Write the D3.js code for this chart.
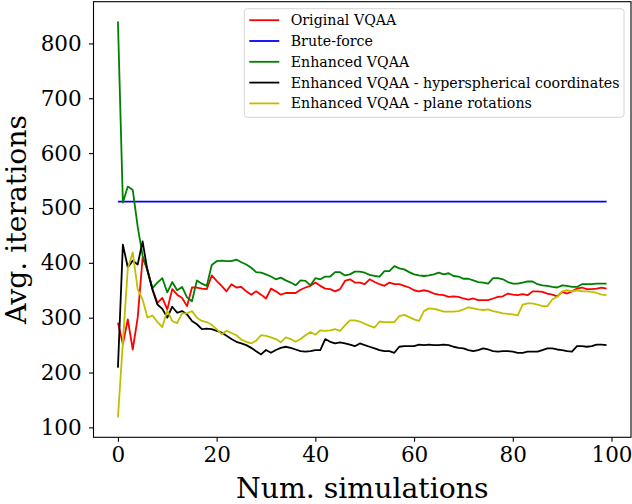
<!DOCTYPE html>
<html>
<head>
<meta charset="utf-8">
<script src="https://cdn.jsdelivr.net/npm/d3@7"></script>
<style>
  body { margin: 0; background: #fff; }
  text { font-family: "DejaVu Serif", serif; fill: #000; }
</style>
</head>
<body>
<div id="chart"></div>
<script>
// series (index = simulation number 0..99)
var original = [291,252,297,242,300,409,388,352,327,336,315,352,342,336,321,355,355,353,352,377,
  367,358,348,361,355,356,348,342,348,342,335,353,348,342,345,345,345,351,355,358,
  364,358,353,352,348,352,367,370,364,364,361,370,365,361,358,364,361,361,358,355,
  350,348,350,348,344,342,341,338,339,338,335,333,335,332,332,332,335,338,339,344,
  342,341,343,341,348,348,347,344,342,339,347,344,348,353,355,352,352,353,355,353];
var bruteForce = 511.5;
var enhanced = [840,510,539,533,466,413,385,354,364,372,346,365,350,356,337,330,368,362,358,396,
  403,404,403,403,406,401,397,391,383,382,379,375,370,373,368,364,359,368,367,359,
  372,370,375,375,383,383,377,379,384,384,382,378,376,375,385,385,394,390,388,383,
  379,377,376,377,379,382,379,381,376,375,371,371,368,365,364,362,372,372,370,365,
  362,362,364,366,366,361,359,358,356,355,359,358,356,356,361,361,361,362,362,362];
var hyper = [209,433,392,404,397,439,385,351,324,316,300,320,309,312,306,294,288,279,280,279,
  276,273,267,261,256,253,250,245,239,233,241,236,241,245,247,245,242,239,238,239,
  241,241,261,256,253,255,253,251,248,253,250,247,244,241,239,239,236,247,248,248,
  248,251,250,251,250,250,251,250,247,245,244,241,239,241,244,242,239,238,239,239,
  238,236,236,238,238,238,241,244,244,242,241,239,238,248,248,247,248,251,251,250];
var plane = [118,255,390,419,352,333,300,304,292,283,313,294,290,308,308,312,300,294,292,287,
  279,270,276,272,268,260,256,253,258,268,267,264,261,255,264,261,256,261,268,274,
  269,277,276,277,279,276,286,295,295,293,289,285,282,293,292,292,292,303,305,301,
  297,294,312,317,316,314,311,311,311,312,315,319,317,315,314,315,312,310,308,307,
  306,304,324,326,326,324,321,321,333,338,348,350,348,350,348,348,347,345,342,341];

var names = ["Original VQAA", "Brute-force", "Enhanced VQAA",
  "Enhanced VQAA - hyperspherical coordinates", "Enhanced VQAA - plane rotations"];
var colors = ["#ff0000", "#0000ff", "#008000", "#000000", "#bfbf00"];
var xTicks = [0, 20, 40, 60, 80, 100];
var yTicks = [100, 200, 300, 400, 500, 600, 700, 800];

var W = 632, H = 504;
var pLeft = 93.5, pRight = 631, pTop = 1.7, pBottom = 437.3;

var svg = d3.select("#chart").append("svg")
  .attr("width", W)
  .attr("height", H)
  .style("background", "#fff");

var x = d3.scaleLinear().domain([-4.95, 103.95]).range([pLeft, pRight]);
var y = d3.scaleLinear().domain([81.9, 876.1]).range([pBottom, pTop]);

var series = [
  original,
  original.map(function() { return bruteForce; }),
  enhanced,
  hyper,
  plane
];

var line = d3.line()
  .x(function(d, i) { return x(i); })
  .y(function(d) { return y(d); });

svg.selectAll("path.series")
  .data(series)
  .enter()
  .append("path")
  .attr("class", "series")
  .attr("d", line)
  .attr("fill", "none")
  .attr("stroke", function(d, i) { return colors[i]; })
  .attr("stroke-width", 1.8)
  .attr("stroke-linejoin", "round");

// axes
var xAxis = svg.append("g")
  .attr("transform", "translate(0," + pBottom + ")")
  .call(d3.axisBottom(x).tickValues(xTicks).tickSize(4.5).tickPadding(5));
var yAxis = svg.append("g")
  .attr("transform", "translate(" + pLeft + ",0)")
  .call(d3.axisLeft(y).tickValues(yTicks).tickSize(4.5).tickPadding(7.3));

[xAxis, yAxis].forEach(function(a) {
  a.select(".domain").remove();
  a.selectAll("line").attr("stroke", "#000").attr("stroke-width", 1.1);
  a.selectAll("text").style("font-size", "21.5px").style("font-family", "DejaVu Serif");
});

// frame
svg.append("rect")
  .attr("x", pLeft)
  .attr("y", pTop)
  .attr("width", pRight - pLeft)
  .attr("height", pBottom - pTop)
  .attr("fill", "none")
  .attr("stroke", "#000")
  .attr("stroke-width", 1.1);

// axis titles
svg.append("text")
  .attr("x", (pLeft + pRight) / 2)
  .attr("y", 498)
  .attr("text-anchor", "middle")
  .style("font-size", "28.3px")
  .text("Num. simulations");

svg.append("text")
  .attr("transform", "translate(26," + ((pTop + pBottom) / 2) + ") rotate(-90)")
  .attr("text-anchor", "middle")
  .style("font-size", "28.3px")
  .text("Avg. iterations");

// legend
var lg = svg.append("g");
lg.append("rect")
  .attr("x", 244.3)
  .attr("y", 8.7)
  .attr("width", 379.7)
  .attr("height", 108.6)
  .attr("rx", 3)
  .attr("fill", "#fff")
  .attr("fill-opacity", 0.8)
  .attr("stroke", "#d6d6d6");

var items = lg.selectAll("g.item")
  .data(names)
  .enter()
  .append("g")
  .attr("class", "item")
  .attr("transform", function(d, i) { return "translate(0," + (20.2 + i * 20.8) + ")"; });
items.append("line")
  .attr("x1", 249.3)
  .attr("x2", 279.3)
  .attr("stroke", function(d, i) { return colors[i]; })
  .attr("stroke-width", 1.8);
items.append("text")
  .attr("x", 290.7)
  .attr("dy", "0.35em")
  .style("font-size", "14.2px")
  .text(function(d) { return d; });
</script>
</body>
</html>
